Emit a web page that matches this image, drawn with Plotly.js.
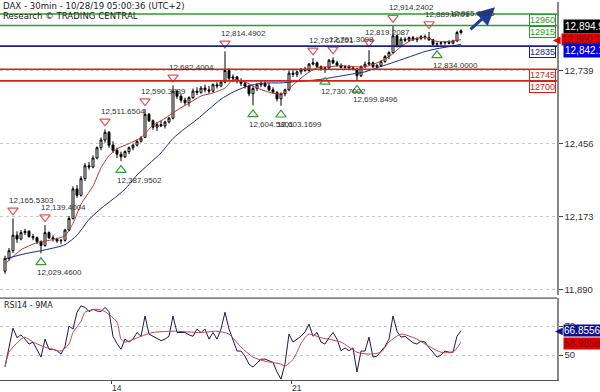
<!DOCTYPE html>
<html><head><meta charset="utf-8">
<script src="https://cdn.plot.ly/plotly-3.0.1.min.js"></script>
<style>html,body{margin:0;padding:0;background:#fff}#chart{width:600px;height:392px}</style>
</head><body><div id="chart"></div>
<script>
// ---- bar index (30-min bars, resampled) ----
const barIndex = [0,1,2,3,4,5,6,7,8,9,10,11,12,13,14,15,16,17,18,19,20,21,22,23,24,25,26,27,28,29,30,31,32,33,34,35,36,37,38,39,40,41,42,43,44,45,46,47,48,49,50,51,52,53,54,55,56,57,58,59,60,61,62,63,64,65,66,67,68,69,70,71,72,73,74,75,76,77,78,79,80,81,82,83,84,85,86,87,88,89,90,91,92,93,94,95,96,97,98,99,100,101,102,103,104,105,106,107,108,109,110,111,112,113,114];
const openP  = [11960,12010,12040,12100,12085,12110,12115,12095,12090,12075,12060,12110,12090,12085,12078,12080,12120,12165,12280,12255,12320,12370,12365,12400,12440,12470,12500,12450,12430,12415,12405,12425,12440,12450,12465,12480,12570,12545,12520,12530,12525,12540,12555,12660,12640,12625,12615,12635,12660,12655,12672,12665,12660,12685,12680,12695,12740,12710,12715,12700,12690,12680,12650,12670,12685,12690,12680,12665,12655,12630,12650,12665,12730,12725,12735,12745,12740,12765,12770,12755,12748,12750,12780,12770,12760,12752,12755,12750,12745,12720,12755,12765,12770,12755,12760,12775,12795,12810,12875,12835,12862,12858,12868,12860,12865,12872,12868,12860,12842,12845,12848,12850,12846,12855,12888];
const highP  = [12020,12050,12165.5303,12115,12120,12125,12120,12105,12095,12080,12139.4004,12115,12100,12090,12085,12125,12175,12290,12295,12330,12380,12385,12410,12445,12480,12511.6504,12505,12465,12440,12425,12430,12445,12455,12470,12485,12590.3789,12575,12550,12540,12545,12545,12560,12682.4004,12665,12650,12635,12640,12670,12675,12680,12685,12680,12690,12695,12700,12814.4902,12750,12725,12720,12710,12700,12685,12680,12690,12700,12700,12690,12675,12660,12655,12670,12740,12745,12740,12750,12755,12770,12787.6201,12775,12760,12755,12785,12791.3098,12778,12768,12760,12762,12758,12750,12760,12775,12819.2087,12775,12765,12780,12800,12815,12914.2402,12880,12870,12870,12872,12875,12870,12878,12880,12889.8701,12862,12850,12852,12855,12858,12860,12895,12900];
const lowP   = [11950,12000,12030,12070,12080,12100,12090,12080,12065,12029.46,12055,12085,12075,12070,12065,12075,12115,12160,12245,12250,12310,12355,12360,12395,12430,12460,12440,12420,12400,12387.9502,12400,12415,12430,12445,12460,12478,12540,12510,12505,12520,12515,12535,12550,12630,12615,12605,12600,12630,12645,12650,12655,12650,12655,12670,12675,12690,12700,12695,12690,12680,12670,12640,12604.5801,12660,12675,12675,12660,12650,12620,12603.1699,12640,12660,12715,12715,12725,12735,12735,12760,12750,12740,12730.7002,12745,12765,12755,12748,12745,12745,12740,12699.8496,12715,12750,12760,12750,12745,12755,12770,12785,12805,12830,12830,12850,12852,12855,12850,12858,12860,12855,12838,12834.0,12838,12840,12842,12842,12852,12880];
const closeP = [12010,12040,12100,12085,12110,12115,12095,12090,12075,12060,12110,12090,12085,12078,12080,12120,12165,12280,12255,12320,12370,12365,12400,12440,12470,12500,12450,12430,12415,12405,12425,12440,12450,12465,12478,12570,12545,12520,12530,12525,12540,12555,12660,12640,12625,12615,12635,12660,12655,12672,12665,12660,12685,12680,12695,12740,12710,12715,12700,12690,12680,12650,12670,12685,12690,12680,12665,12655,12630,12650,12665,12730,12725,12735,12745,12740,12765,12770,12755,12748,12750,12780,12770,12760,12752,12755,12750,12745,12720,12755,12765,12770,12755,12760,12775,12795,12810,12875,12835,12862,12858,12868,12860,12865,12872,12868,12860,12842,12845,12848,12850,12846,12855,12888,12894.9];

// ---- moving averages on price ----
const redMaIdx = [0,4,8,12,15,17,19,22,24,26,28,31,34,37,40,43,46,49,52,55,57,60,63,66,69,72,75,78,81,84,87,90,93,96,99,102,105,108,111,114];
const redMaVal = [11988,12043,12071,12083,12098,12146,12220,12291,12362,12409,12436,12456,12480,12527,12554,12586,12613,12641,12653,12672,12704,12696,12672,12656,12649,12684,12723,12751,12755,12759,12755,12755,12770,12794,12833,12861,12869,12853,12853,12860.1];
const blueMaIdx = [0,5,10,15,18,21,24,27,30,33,36,39,42,45,48,51,54,57,60,63,66,69,72,75,78,81,84,87,90,93,96,99,102,105,108,111,114];
const blueMaVal = [12008,12028,12043,12063,12100,12161,12204,12240,12279,12334,12377,12420,12476,12515,12550,12590,12629,12656,12676,12688,12692,12692,12696,12700,12704,12711,12719,12727,12735,12751,12766,12782,12798,12814,12825,12833,12842.1];

// ---- pivots ----
const highIdx = [2,10,25,35,42,55,77,82,91,97,106];
const highVal = [12165.5303,12139.4004,12511.6504,12590.3789,12682.4004,12814.4902,12787.6201,12791.3098,12819.2087,12914.2402,12889.8701];
const lowIdx  = [9,29,62,69,80,88,108];
const lowVal  = [12029.46,12387.9502,12604.5801,12603.1699,12730.7002,12699.8496,12834.0];

// ---- support / resistance levels ----
const levelVal   = [12960,12915,12835,12745,12700];
const levelColor = ['#2e9a2e','#2e9a2e','#1a237e','#d62020','#d62020'];

// ---- projection ----
const projIdx = 122.5;
const projFromIdx = 116;
const projVal = 12985.8496;

// ---- RSI ----
const rsiVal = [42,55,68.6,62,64,61,57.6,59,54,48.6,61,54,54,53,50.7,56,70,68,79.6,84,83,80,81.7,80.5,80,83,80,63,58,54,61,59,61,65.6,63,77,64.5,63,62,60,61,63,77,65.6,65.6,65.6,64,63,68,65.6,68,61,65.6,61,68,79.6,68,61,52.8,52.8,49.3,43.8,41.7,44.5,47.2,47.2,46,45,38.3,33.4,44,64.5,59,61,63,66,71.4,63,65.6,59,57.6,62,65.6,61,53,55,53,55,38.3,52.8,52.8,62.4,48.6,49.3,52.8,56,61,77,66.5,62.4,63,61,58.5,57.6,59.7,59,55,52,48.6,50,52.8,52,52,63,66.8556];
const rsiMaIdx = [0,1,4,5,7,10,12,14,16,17,19,20,23,25,28,29,30,34,37,42,49,53,56,59,62,65,69,70,72,73,74,75,76,79,84,88,91,94,96,99,103,106,109,112,114];
const rsiMaVal = [42,52,61,62.4,59,55.5,54,52.8,57.6,65.6,73.4,79.6,81.7,80,72.8,61,59,63,65.6,66.5,65.6,66.5,64.5,55.5,48.6,45.8,43.8,42.4,47,52,58,62,64.5,62,59,52,50.7,52,59,64.5,61,56,52,52,58.9858];

// ---- x tick labels ----
const xTickPos = [26.5, 71.5];
const xTickText = ['14','21'];

function fmt(v, d){
  const s = v.toFixed(d).split('.');
  return s[0].replace(/\B(?=(\d{3})+(?!\d))/g, ',') + (s.length>1 ? '.'+s[1] : '');
}

const PXU = 3.877; // price units per pixel on main panel
const LAB = 'Liberation Sans, Arial, sans-serif';
const DV = 'DejaVu Sans, sans-serif';

const traces = [
  {type:'candlestick', x:barIndex, open:openP, high:highP, low:lowP, close:closeP,
   xaxis:'x', yaxis:'y', whiskerwidth:0,
   increasing:{line:{color:'#000',width:1}, fillcolor:'#ffffff'},
   decreasing:{line:{color:'#000',width:1}, fillcolor:'#000000'},
   hoverinfo:'skip', showlegend:false},
  {type:'scatter', mode:'lines', x:redMaIdx, y:redMaVal, xaxis:'x', yaxis:'y',
   line:{color:'#b23a3a', width:1, shape:'spline', smoothing:0.6}, hoverinfo:'skip', showlegend:false},
  {type:'scatter', mode:'lines', x:blueMaIdx, y:blueMaVal, xaxis:'x', yaxis:'y',
   line:{color:'#1c2a80', width:1, shape:'spline', smoothing:0.6}, hoverinfo:'skip', showlegend:false},
  {type:'scatter', mode:'markers', x:highIdx, y:highVal.map(v=>v+8*PXU), xaxis:'x', yaxis:'y',
   marker:{symbol:'triangle-down-open', size:9, color:'#e05555', line:{width:1.2}}, hoverinfo:'skip', showlegend:false},
  {type:'scatter', mode:'markers', x:lowIdx, y:lowVal.map(v=>v-9*PXU), xaxis:'x', yaxis:'y',
   marker:{symbol:'triangle-up-open', size:9, color:'#3a9a3a', line:{width:1.2}}, hoverinfo:'skip', showlegend:false},
  {type:'scatter', mode:'lines', x:barIndex, y:rsiVal, xaxis:'x', yaxis:'y2',
   line:{color:'#1a1a50', width:1}, hoverinfo:'skip', showlegend:false},
  {type:'scatter', mode:'lines', x:rsiMaIdx, y:rsiMaVal, xaxis:'x', yaxis:'y2',
   line:{color:'#c04848', width:1, shape:'spline', smoothing:0.6}, hoverinfo:'skip', showlegend:false}
];

const shapes = [];
levelVal.forEach((v,k)=>{
  shapes.push({type:'line', xref:'paper', x0:0, x1:1, yref:'y', y0:v, y1:v,
    line:{color:levelColor[k], width:1.6}, layer:'above'});
});
shapes.push({type:'line', xref:'paper', x0:0, x1:1, yref:'y2 domain', y0:1, y1:1, line:{color:'#555', width:1.2}});

const annotations = [];
annotations.push({xref:'paper', yref:'paper', x:0, y:1, xanchor:'left', yanchor:'top', xshift:1, yshift:3,
  text:'DAX - 30min - 10/28/19 05:00:36 (UTC+2)', showarrow:false, font:{family:DV, size:8.6, color:'#222'}});
annotations.push({xref:'paper', yref:'paper', x:0, y:1, xanchor:'left', yanchor:'top', xshift:1, yshift:-7,
  text:'Research © TRADING CENTRAL', showarrow:false, font:{family:DV, size:8.6, color:'#222'}});
annotations.push({xref:'paper', yref:'y2 domain', x:0, y:1, xanchor:'left', yanchor:'top', xshift:2, yshift:-1,
  text:'RSI14 - 9MA', showarrow:false, font:{family:DV, size:8, color:'#222'}});

highIdx.forEach((ix,k)=>{
  annotations.push({xref:'x', yref:'y', x:ix, y:highVal[k], xanchor:'left', yanchor:'middle', xshift:-6, yshift:18,
    text:fmt(highVal[k],4), showarrow:false, font:{family:LAB, size:8, color:'#333'}});
});
lowIdx.forEach((ix,k)=>{
  annotations.push({xref:'x', yref:'y', x:ix, y:lowVal[k], xanchor:'left', yanchor:'middle', xshift:-6, yshift:-19,
    text:fmt(lowVal[k],4), showarrow:false, font:{family:LAB, size:8, color:'#333'}});
});

levelVal.forEach((v,k)=>{
  annotations.push({xref:'paper', yref:'y', x:1, y:v, xanchor:'right', yanchor:'top', xshift:-1, yshift:0,
    text:String(v), showarrow:false, bgcolor:'#ffffff', bordercolor:levelColor[k], borderwidth:1, borderpad:0,
    font:{family:LAB, size:9, color:levelColor[k]}});
});

// projection arrow
annotations.push({xref:'x', yref:'y', x:projIdx, y:projVal, axref:'x', ayref:'y', ax:projFromIdx, ay:closeP[closeP.length-1],
  showarrow:true, arrowhead:2, arrowsize:1.2, arrowwidth:3, arrowcolor:'#1f3a9a', text:''});
annotations.push({xref:'x', yref:'y', x:projIdx, y:projVal, xanchor:'right', yanchor:'middle', xshift:2, yshift:-6,
  text:fmt(projVal,4), showarrow:false, font:{family:LAB, size:8, color:'#333'}});

// right side value boxes
const lastClose = closeP[closeP.length-1];
annotations.push({xref:'paper', yref:'y', x:1, y:lastClose, xanchor:'left', yanchor:'middle', xshift:6, yshift:4,
  text:fmt(lastClose,1)+'496', showarrow:false, bgcolor:'#000', borderpad:1, font:{family:LAB, size:10, color:'#fff'}});
annotations.push({xref:'paper', yref:'y', x:1, y:redMaVal[redMaVal.length-1], xanchor:'left', yanchor:'middle', xshift:4, yshift:0,
  text:fmt(redMaVal[redMaVal.length-1],4), showarrow:false, bgcolor:'#e00000', borderpad:0, font:{family:LAB, size:10, color:'#8a0000'}});
annotations.push({xref:'paper', yref:'y', x:1, y:redMaVal[redMaVal.length-1], xanchor:'right', yanchor:'middle', xshift:6, yshift:0,
  text:'◀', showarrow:false, font:{family:DV, size:10, color:'#e00000'}});
annotations.push({xref:'paper', yref:'y', x:1, y:blueMaVal[blueMaVal.length-1], xanchor:'left', yanchor:'middle', xshift:6, yshift:-6,
  text:fmt(blueMaVal[blueMaVal.length-1],4), showarrow:false, bgcolor:'#0000e0', borderpad:1, font:{family:LAB, size:10, color:'#fff'}});
annotations.push({xref:'paper', yref:'y2', x:1, y:rsiVal[rsiVal.length-1], xanchor:'left', yanchor:'middle', xshift:6, yshift:0,
  text:fmt(rsiVal[rsiVal.length-1],4), showarrow:false, bgcolor:'#10108a', borderpad:0, font:{family:LAB, size:10, color:'#fff'}});
annotations.push({xref:'paper', yref:'y2', x:1, y:rsiVal[rsiVal.length-1], xanchor:'right', yanchor:'middle', xshift:8, yshift:0,
  text:'◀', showarrow:false, font:{family:DV, size:10, color:'#10108a'}});
annotations.push({xref:'paper', yref:'y2', x:1, y:rsiMaVal[rsiMaVal.length-1], xanchor:'left', yanchor:'middle', xshift:6, yshift:-1,
  text:fmt(rsiMaVal[rsiMaVal.length-1],4), showarrow:false, bgcolor:'#e00000', borderpad:0, font:{family:LAB, size:10, color:'#8a0000'}});

const layout = {
  width:600, height:392,
  margin:{l:0, r:43, t:2, b:12, pad:0},
  paper_bgcolor:'#fff', plot_bgcolor:'#fff',
  showlegend:false,
  xaxis:{anchor:'y2', domain:[0,1], range:[-1.25,138], rangeslider:{visible:false},
    showgrid:false, zeroline:false, showline:true, linecolor:'#555', linewidth:1.2,
    tickmode:'array', tickvals:xTickPos, ticktext:xTickText, ticks:'outside', ticklen:3, tickcolor:'#444',
    ticklabelposition:'outside right', ticklabelstandoff:0, tickfont:{family:LAB, size:8.5, color:'#333'}},
  yaxis:{domain:[0.2243,1], range:[11866.7,13006.5], side:'right', anchor:'x',
    tickmode:'array', tickvals:[11890,12173,12456,12739], tickformat:',.0f',
    ticks:'outside', ticklen:4, tickcolor:'#444', showline:true, linecolor:'#888', linewidth:1.6,
    showgrid:true, gridcolor:'#c8c8c8', griddash:'dot', gridwidth:1, zeroline:false,
    tickfont:{family:LAB, size:9.5, color:'#333'}},
  yaxis2:{domain:[0,0.2164], range:[32.8,89.3], side:'right', anchor:'x',
    tickmode:'array', tickvals:[50,70], ticks:'outside', ticklen:4, tickcolor:'#444',
    showline:true, linecolor:'#888', linewidth:1.6,
    showgrid:true, gridcolor:'#c8c8c8', griddash:'dot', gridwidth:1, zeroline:false,
    tickfont:{family:LAB, size:9.5, color:'#333'}},
  shapes:shapes,
  annotations:annotations
};

Plotly.newPlot('chart', traces, layout, {staticPlot:true, displayModeBar:false});
</script>
</body></html>
